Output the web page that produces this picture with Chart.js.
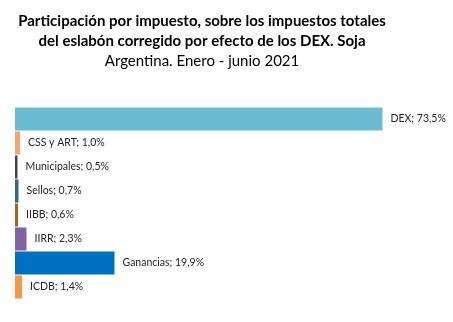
<!DOCTYPE html>
<html>
<head>
<meta charset="utf-8">
<script src="https://cdn.jsdelivr.net/npm/chart.js@4/dist/chart.umd.min.js"></script>
<style>
  html, body { margin: 0; padding: 0; background: #fff; }
  #wrap { width: 453px; height: 322px; }
</style>
</head>
<body>
<div id="wrap"><canvas id="grafico"></canvas></div>
<script>
const impuestos = ["DEX", "CSS y ART", "Municipales", "Sellos", "IIBB", "IIRR", "Ganancias", "ICDB"];
const participacion = [73.5, 1.0, 0.5, 0.7, 0.6, 2.3, 19.9, 1.4];
const colores = ["#6bbcd0", "#f5a66c", "#4a3c5c", "#2f6b78", "#b05f1e", "#8064a2", "#0070c0", "#f79646"];

const tituloLineas = [
  "Participación por impuesto, sobre los impuestos totales",
  "del eslabón corregido por efecto de los DEX. Soja"
];
const subtitulo = "Argentina. Enero - junio 2021";

const FUENTE = "Lato, 'Open Sans', sans-serif";

// títulos y etiquetas "nombre; valor%" al lado de cada barra
const textos = {
  id: "textos",
  afterDatasetsDraw(chart) {
    const ctx = chart.ctx;
    ctx.save();
    ctx.fillStyle = "#000";
    ctx.textAlign = "center";
    ctx.textBaseline = "middle";
    ctx.font = "bold 15px " + FUENTE;
    ctx.fillText(tituloLineas[0], 202, 21);
    ctx.fillText(tituloLineas[1], 202, 41);
    ctx.font = "15px " + FUENTE;
    ctx.fillText(subtitulo, 202, 61);

    ctx.fillStyle = "#262626";
    ctx.font = "10.5px " + FUENTE;
    ctx.textAlign = "left";
    const meta = chart.getDatasetMeta(0);
    meta.data.forEach((barra, i) => {
      const valor = participacion[i].toFixed(1).replace(".", ",");
      ctx.fillText(impuestos[i] + "; " + valor + "%", barra.x + 8, barra.y);
    });
    ctx.restore();
  }
};

new Chart(document.getElementById("grafico"), {
  type: "bar",
  data: {
    labels: impuestos,
    datasets: [{
      data: participacion,
      backgroundColor: colores,
      barPercentage: 1,
      categoryPercentage: 0.96
    }]
  },
  options: {
    indexAxis: "y",
    responsive: true,
    maintainAspectRatio: false,
    animation: false,
    layout: { padding: { left: 15, right: 38, top: 107, bottom: 23 } },
    plugins: {
      legend: { display: false },
      tooltip: { enabled: false }
    },
    scales: {
      x: { display: false, min: 0, max: 80 },
      y: { display: false }
    }
  },
  plugins: [textos]
});
</script>
</body>
</html>
